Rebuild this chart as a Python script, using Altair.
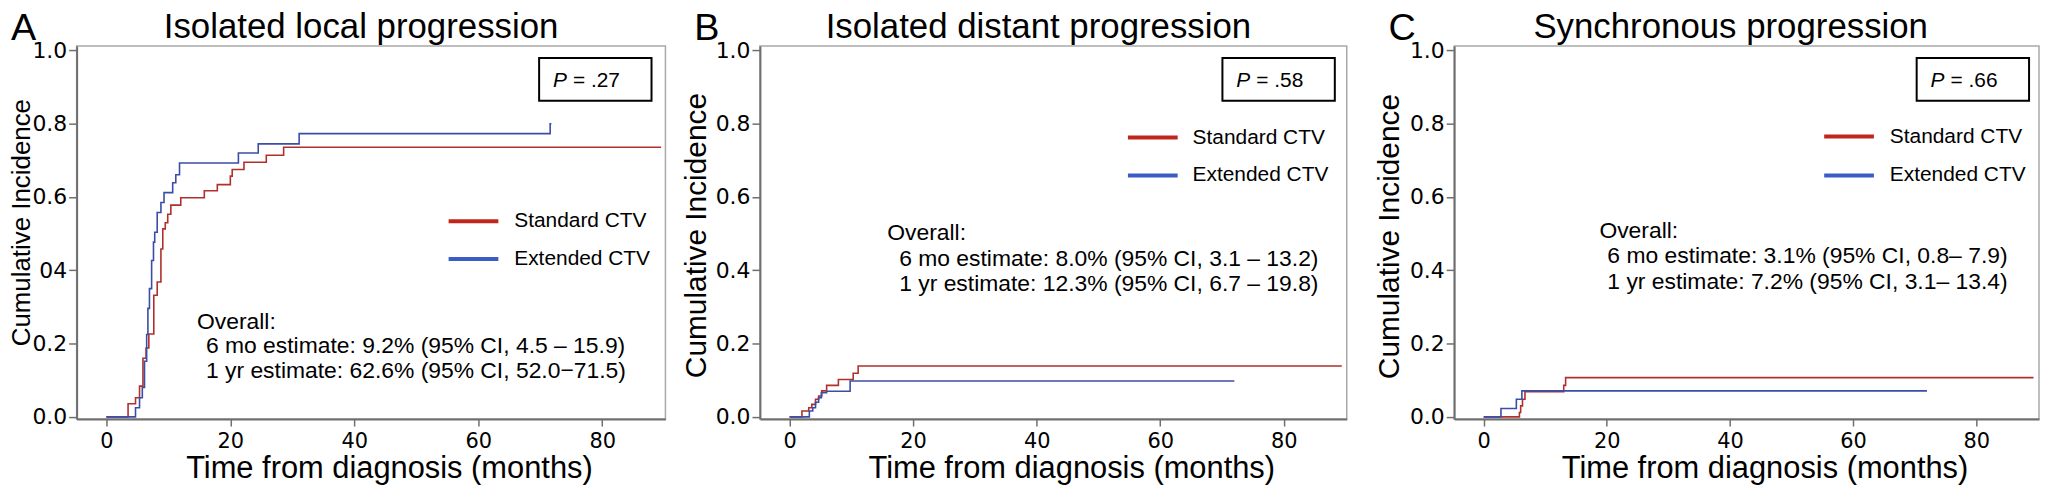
import altair as alt
import pandas as pd

FONT = "Liberation Sans, Arial, sans-serif"
NUMFONT = "DejaVu Sans, sans-serif"

# ---------------- data ----------------
titles = ["Isolated local progression", "Isolated distant progression", "Synchronous progression"]
letters = ["A", "B", "C"]
p_values = [".27", ".58", ".66"]
groups = ["Standard CTV", "Extended CTV"]
x_ticks = [0, 20, 40, 60, 80]
y_ticks = [0.0, 0.2, 0.4, 0.6, 0.8, 1.0]

a_std_t = [0, 3.5, 4.7, 5.35, 5.9, 6.4, 6.85, 7.65, 8.2, 8.8, 9.1, 9.5, 9.9, 10.4, 12.0, 15.8, 17.9, 20.0, 20.3, 22.2, 25.8, 28.6, 89.5]
a_std_y = [0, 0.036, 0.052, 0.084, 0.16, 0.188, 0.226, 0.332, 0.368, 0.458, 0.513, 0.53, 0.553, 0.578, 0.598, 0.617, 0.634, 0.657, 0.675, 0.695, 0.714, 0.736, 0.736]
a_ext_t = [0, 4.7, 5.35, 5.8, 6.15, 6.5, 6.7, 6.95, 7.3, 7.6, 7.8, 8.2, 8.8, 9.3, 10.7, 11.2, 11.8, 21.3, 24.5, 31.1, 71.6, 71.8]
a_ext_y = [0, 0.025, 0.052, 0.08, 0.152, 0.225, 0.296, 0.35, 0.427, 0.477, 0.504, 0.558, 0.585, 0.612, 0.639, 0.661, 0.693, 0.72, 0.745, 0.773, 0.80, 0.80]

b_std_t = [0, 2.0, 3.1, 3.6, 4.2, 4.7, 5.2, 6.0, 7.9, 10.3, 11.1, 89.4]
b_std_y = [0, 0.016, 0.025, 0.034, 0.048, 0.057, 0.071, 0.086, 0.102, 0.119, 0.139, 0.139]
b_ext_t = [0, 3.2, 3.75, 4.2, 4.7, 5.15, 6.0, 9.8, 72.0]
b_ext_y = [0, 0.016, 0.025, 0.04, 0.052, 0.066, 0.07, 0.098, 0.098]

c_std_t = [0, 5.8, 6.0, 6.3, 6.7, 13.0, 13.3, 89.3]
c_std_y = [0, 0.012, 0.03, 0.048, 0.069, 0.086, 0.107, 0.107]
c_ext_t = [0, 2.8, 5.3, 6.2, 72.0]
c_ext_y = [0, 0.023, 0.048, 0.071, 0.071]

overall_a = ["Overall:", "6 mo estimate: 9.2% (95% CI, 4.5 \u2013 15.9)", "1 yr estimate: 62.6% (95% CI, 52.0\u221271.5)"]
overall_b = ["Overall:", "6 mo estimate: 8.0% (95% CI, 3.1 \u2013 13.2)", "1 yr estimate: 12.3% (95% CI, 6.7 \u2013 19.8)"]
overall_c = ["Overall:", "6 mo estimate: 3.1% (95% CI, 0.8\u2013 7.9)", "1 yr estimate: 7.2% (95% CI, 3.1\u2013 13.4)"]

series = [
    (a_std_t, a_std_y, a_ext_t, a_ext_y),
    (b_std_t, b_std_y, b_ext_t, b_ext_y),
    (c_std_t, c_std_y, c_ext_t, c_ext_y),
]
overall = [overall_a, overall_b, overall_c]

# ---------------- styling / layout ----------------
RED = "#b0302c"
BLUE = "#3a4ea6"
LEG_RED = "#c0261c"
LEG_BLUE = "#3a5cc4"

W = [592, 590, 588]
H = 375
XDOM = [-4.8, 90.2]
YDOM = [-0.006, 1.012]

layout = [
    dict(ytitle_x=-47, ytitle_y=177, ytitle_fs=26, leg_x=374, leg_y=[176, 214], leg_tx=440,
         ov_x=[121, 130, 130], ov_y=[284, 309, 334], title_x=286, ghost=0),
    dict(ytitle_x=-55, ytitle_y=190, ytitle_fs=30, leg_x=370, leg_y=[92, 130], leg_tx=435,
         ov_x=[128, 140, 140], ov_y=[195, 221, 246], title_x=280, ghost=12),
    dict(ytitle_x=-56, ytitle_y=191, ytitle_fs=30, leg_x=372, leg_y=[91, 130], leg_tx=438,
         ov_x=[146, 154, 154], ov_y=[193, 218, 244], title_x=278, ghost=0),
]

one = alt.Data(values=[{"k": 1}])


def text_layer(txt, x, y, size, align="left", baseline="alphabetic", font=FONT, style="normal", color="black"):
    return alt.Chart(one).mark_text(
        text=txt, align=align, baseline=baseline, font=font, fontSize=size,
        fontStyle=style, color=color
    ).encode(x=alt.value(x), y=alt.value(y))


def panel(i):
    st, sy, et, ey = series[i]
    L = layout[i]
    w = W[i]
    df_s = pd.DataFrame({"t": st, "v": sy, "g": groups[0]})
    df_e = pd.DataFrame({"t": et, "v": ey, "g": groups[1]})

    if i == 0:
        ylabel_expr = "datum.value == 0.4 ? '04' : format(datum.value, '.1f')"
    else:
        ylabel_expr = "format(datum.value, '.1f')"

    xenc = alt.X("t:Q", scale=alt.Scale(domain=XDOM, nice=False, zero=False),
                 axis=alt.Axis(values=x_ticks, format="d", title="Time from diagnosis (months)",
                               titleX=w / 2 + 18, titleY=59, titleAlign="center",
                               titleBaseline="alphabetic", titleFontSize=31))
    yenc = alt.Y("v:Q", scale=alt.Scale(domain=YDOM, nice=False, zero=False),
                 axis=alt.Axis(values=y_ticks, labelExpr=ylabel_expr, title="Cumulative Incidence",
                               titleX=L["ytitle_x"], titleY=L["ytitle_y"], titleAlign="center",
                               titleBaseline="alphabetic", titleAngle=270,
                               titleFontSize=L["ytitle_fs"]))

    line_s = alt.Chart(df_s).mark_line(interpolate="step-after", strokeWidth=1.6, color=RED).encode(x=xenc, y=yenc)
    line_e = alt.Chart(df_e).mark_line(interpolate="step-after", strokeWidth=1.6, color=BLUE).encode(x="t:Q", y="v:Q")

    layers = [line_s, line_e]

    # legend
    for k, col in enumerate([LEG_RED, LEG_BLUE]):
        ly = L["leg_y"][k]
        layers.append(alt.Chart(one).mark_rule(color=col, strokeWidth=4).encode(
            x=alt.value(L["leg_x"]), x2=alt.value(L["leg_x"] + 50), y=alt.value(ly)))
        layers.append(text_layer(groups[k], L["leg_tx"], ly, 21, baseline="middle"))

    # P-value box
    layers.append(alt.Chart(one).mark_rect(fill="white", stroke="black", strokeWidth=2).encode(
        x=alt.value(465), x2=alt.value(578), y=alt.value(12), y2=alt.value(55)))
    layers.append(text_layer("P", 479, 41, 21, style="italic"))
    layers.append(text_layer("= " + p_values[i], 499, 41, 21))

    # overall text
    for k in range(3):
        layers.append(text_layer(overall[i][k], L["ov_x"][k], L["ov_y"][k], 23))

    # title and panel letter
    layers.append(text_layer(titles[i], L["title_x"], -8, 35, align="center"))
    layers.append(text_layer(letters[i], -66, -6, 38))

    # invisible spacer widening the panel's right bound
    if L["ghost"]:
        layers.append(alt.Chart(one).mark_rule(strokeOpacity=0, opacity=0).encode(
            x=alt.value(w + L["ghost"]), y=alt.value(H / 2), y2=alt.value(H / 2 + 2)))

    return alt.layer(*layers).properties(width=w, height=H)


chart = alt.hconcat(panel(0), panel(1), panel(2), spacing=14).properties(
    padding={"left": 0, "top": 0, "right": 0, "bottom": 0}
).configure_view(
    stroke="#a9a9a9", strokeWidth=1.5
).configure_axis(
    grid=False, domainColor="#6f6f6f", domainWidth=2, tickColor="#6f6f6f", tickWidth=1.5,
    tickSize=8, labelFont=NUMFONT, labelFontSize=22, labelColor="black", labelPadding=2,
    titleFont=FONT, titleFontWeight="normal", titleColor="black"
).configure_axisX(
    labelFontSize=21, labelPadding=5, tickSize=7
)

chart.save("out.html", embed_options={"renderer": "svg", "actions": False})
